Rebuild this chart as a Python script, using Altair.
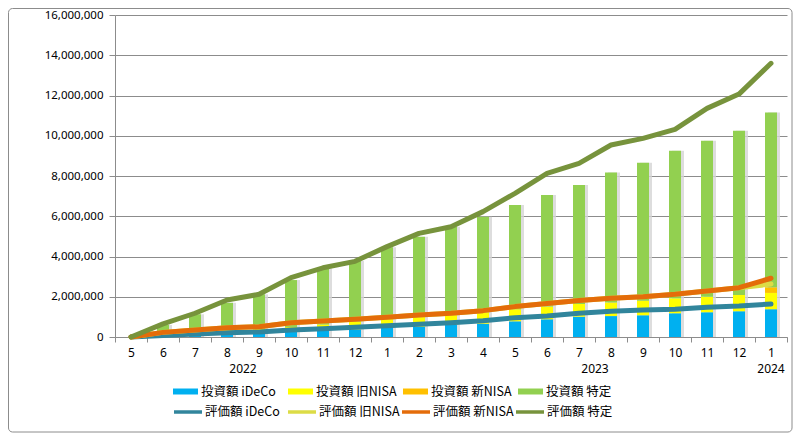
import altair as alt
import pandas as pd

months = ["2022-05", "2022-06", "2022-07", "2022-08", "2022-09", "2022-10", "2022-11", "2022-12",
          "2023-01", "2023-02", "2023-03", "2023-04", "2023-05", "2023-06", "2023-07", "2023-08",
          "2023-09", "2023-10", "2023-11", "2023-12", "2024-01"]

bar_names = ["投資額 iDeCo", "投資額 旧NISA", "投資額 新NISA", "投資額 特定"]
bar_colors = ["#00B0F0", "#FFFF00", "#FFC000", "#92D050"]
line_names = ["評価額 iDeCo", "評価額 旧NISA", "評価額 新NISA", "評価額 特定"]
line_colors = ["#31859C", "#DCDC46", "#E46C0A", "#77933C"]

inv_ideco = [0, 50000, 100000, 150000, 200000, 250000, 320000, 380000, 460000, 510000, 600000,
             660000, 780000, 880000, 1010000, 1040000, 1080000, 1180000, 1230000, 1280000, 1380000]
inv_kyu = [0, 50000, 100000, 150000, 200000, 250000, 300000, 380000, 440000, 500000, 520000,
           570000, 600000, 630000, 630000, 670000, 720000, 740000, 770000, 810000, 810000]
inv_shin = [0, 0, 0, 0, 0, 0, 0, 0, 0, 0, 0, 0, 0, 0, 0, 0, 0, 0, 0, 0, 280000]
inv_tokutei = [0, 500000, 930000, 1400000, 1720000, 2330000, 2790000, 3020000, 3560000, 3970000,
               4360000, 4750000, 5180000, 5550000, 5910000, 6460000, 6860000, 7340000, 7750000,
               8160000, 8680000]

val_ideco = [0, 70000, 150000, 210000, 250000, 350000, 410000, 480000, 560000, 630000, 710000,
             810000, 960000, 1040000, 1180000, 1280000, 1340000, 1380000, 1480000, 1540000, 1640000]
val_kyu = [0, 160000, 200000, 250000, 260000, 360000, 390000, 400000, 420000, 460000, 470000,
           500000, 550000, 630000, 630000, 640000, 660000, 740000, 810000, 910000, 990000]
val_shin = [0, 0, 0, 0, 0, 0, 0, 0, 0, 0, 0, 0, 0, 0, 0, 0, 0, 0, 0, 0, 290000]
val_tokutei = [0, 420000, 830000, 1380000, 1610000, 2240000, 2640000, 2880000, 3510000, 4060000,
               4300000, 4920000, 5630000, 6460000, 6820000, 7620000, 7870000, 8200000, 9070000,
               9620000, 10680000]

years = ["2022", "2023", "2024"]
year_anchor = ["2022-08", "2023-07", "2024-01"]
y_ticks = [0, 2000000, 4000000, 6000000, 8000000, 10000000, 12000000, 14000000, 16000000]

# ---- tables ----
inv_series = [inv_ideco, inv_kyu, inv_shin, inv_tokutei]
bar_rows = []
for k, (name, vals) in enumerate(zip(bar_names, inv_series)):
    for m, v in zip(months, vals):
        bar_rows.append({"month": m, "series": name, "value": v, "order": k})
bar_df = pd.DataFrame(bar_rows)
tot_df = bar_df.groupby("month", as_index=False)["value"].sum()

val_series = [val_ideco, val_kyu, val_shin, val_tokutei]
line_dfs = []
cum = [0] * len(months)
for name, vals in zip(line_names, val_series):
    cum = [c + v for c, v in zip(cum, vals)]
    line_dfs.append(pd.DataFrame({"month": months, "series": name, "value": cum}))

FONT = "Noto Sans"
JFONT = "Noto Sans CJK JP"
GRID = "#8C8C8C"

x_enc = alt.X("month:N", sort=months,
              scale=alt.Scale(type="band", domain=months, paddingInner=0, paddingOuter=0),
              axis=alt.Axis(title=None, labelAngle=0, tickBand="extent", tickSize=5,
                            labelExpr="toNumber(split(datum.value, '-')[1])",
                            domainColor=GRID, tickColor=GRID, labelColor="black",
                            labelFont=FONT, labelFontSize=12, labelPadding=5, grid=False))
y_scale = alt.Scale(domain=[0, 16000000])
y_axis = alt.Axis(title=None, values=y_ticks, format=",.0f", grid=True, gridColor=GRID,
                  domainColor=GRID, tickColor=GRID, tickSize=6, labelColor="black",
                  labelFont=FONT, labelFontSize=11.5, labelPadding=6)

frame = alt.Chart(pd.DataFrame({"k": [0]})).mark_rect(
    fill="white", fillOpacity=0, stroke="#8C8C8C", strokeWidth=1, cornerRadius=4
).encode(x=alt.value(-106.5), x2=alt.value(677), y=alt.value(-6.5), y2=alt.value(417))

shadow = alt.Chart(tot_df).mark_bar(size=12, xOffset=3, color="#D4D4D4", opacity=0.8).encode(
    x=x_enc, y=alt.Y("value:Q", stack=None, scale=y_scale, axis=y_axis)
)

bars = alt.Chart(bar_df).mark_bar(size=12).encode(
    x=x_enc,
    y=alt.Y("value:Q", stack="zero", scale=y_scale, axis=y_axis),
    fill=alt.Fill("series:N", scale=alt.Scale(domain=bar_names, range=bar_colors),
                  legend=alt.Legend(title=None, orient="none", legendX=58, legendY=364,
                                    direction="horizontal", columns=4, gridAlign="all",
                                    symbolType="M-1,-0.24H1V0.24H-1Z", symbolSize=625,
                                    symbolStrokeWidth=0, labelFont=JFONT, labelFontSize=12.5,
                                    labelColor="black", labelOffset=3, columnPadding=6)),
    order=alt.Order("order:Q"),
)

line_layers = []
for name, d in zip(line_names, line_dfs):
    line_layers.append(
        alt.Chart(d).mark_line(strokeWidth=5, strokeCap="round", strokeJoin="round").encode(
            x=x_enc,
            y=alt.Y("value:Q", stack=None, scale=y_scale, axis=y_axis),
            stroke=alt.Stroke("series:N", scale=alt.Scale(domain=line_names, range=line_colors),
                              legend=alt.Legend(title=None, orient="none", legendX=57, legendY=381,
                                                direction="horizontal", columns=4, gridAlign="all",
                                                symbolType="stroke", symbolSize=784,
                                                symbolStrokeWidth=3.5, labelFont=JFONT,
                                                labelFontSize=12.5, labelColor="black",
                                                labelOffset=1, columnPadding=-5)),
        )
    )

year_layers = []
for yr, anc, dx in zip(years, year_anchor, [16, 16, 0]):
    year_layers.append(
        alt.Chart(pd.DataFrame({"month": [anc], "label": [yr]})).mark_text(
            dx=dx, font=FONT, fontSize=12, color="black", baseline="middle", align="center"
        ).encode(x=x_enc, y=alt.value(354), text="label:N")
    )

chart = alt.layer(frame, shadow, bars, *line_layers, *year_layers).properties(
    width=672, height=322,
    autosize=alt.AutoSizeParams(type="none"),
    padding={"left": 107, "top": 7, "right": 8, "bottom": 96},
).configure_view(strokeWidth=0).resolve_scale(y="shared")

chart.save("out.html", embed_options={"renderer": "svg", "actions": False})
